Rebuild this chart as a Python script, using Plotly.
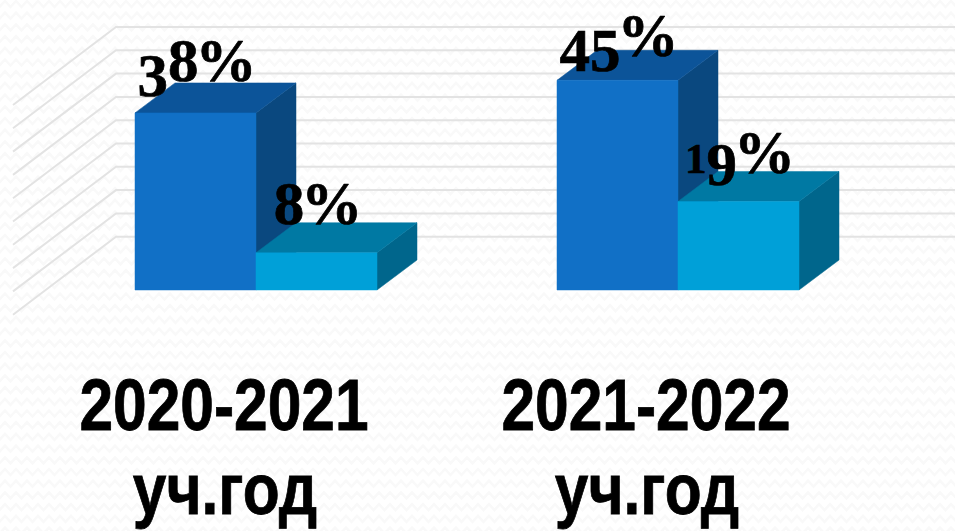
import plotly.graph_objects as go

years_line1 = ["2020-2021", "2021-2022"]
years_line2 = ["уч.год", "уч.год"]
series_a = [38, 45]
series_b = [8, 19]
gridline_values = [5, 10, 15, 20, 25, 30, 35, 40, 45, 50]

W, H = 955, 531
PX_X = 422.0   # pixels per category
PX_Y = 4.66    # pixels per percent
X0 = 256.0     # pixel of first category
Y0 = 290.0     # pixel of zero
BAR_W = 121 / PX_X
DX = 40 / PX_X
DY = 30 / PX_Y

fig = go.Figure()


def poly(xs, ys, color):
    fig.add_trace(go.Scatter(x=xs + xs[:1], y=ys + ys[:1], mode="lines", fill="toself",
                             fillcolor=color, line=dict(color=color, width=0.5),
                             hoverinfo="skip", showlegend=False))


# back wall grid
left = (116 - X0) / PX_X
right = (W - X0) / PX_X
wall_dx = (116 - 13) / PX_X
wall_dy = 78 / PX_Y
for v in gridline_values:
    fig.add_trace(go.Scatter(
        x=[left - wall_dx, left, right],
        y=[v + DY - wall_dy, v + DY, v + DY],
        mode="lines", line=dict(color="#e3e3e3", width=2),
        hoverinfo="skip", showlegend=False))


def bar3d(x0, v, front, top, side):
    x1 = x0 + BAR_W
    poly([x1, x1 + DX, x1 + DX, x1], [0, DY, v + DY, v], side)
    poly([x0, x0 + DX, x1 + DX, x1], [v, v + DY, v + DY, v], top)
    poly([x0, x1, x1, x0], [0, 0, v, v], front)


for i in range(len(series_a)):
    bar3d(i - BAR_W, series_a[i], "#1170c6", "#0c5499", "#0a487f")
    bar3d(float(i), series_b[i], "#00a0d8", "#0079a3", "#00668c")

# value labels (gap above each bar top, in axis units)
gap_a = [3.5, 2.0]
gap_b = [2.85, 2.85]
lx, ly, lt = [], [], []
for i in range(len(series_a)):
    lx += [i - BAR_W / 2 + 1.5 / PX_X, i + BAR_W / 2 + 1.5 / PX_X]
    ly += [series_a[i] + gap_a[i], series_b[i] + gap_b[i]]
    lt += [f"{series_a[i]}%", f"{series_b[i]}%"]
fig.add_trace(go.Scatter(x=lx, y=ly, text=lt, mode="text",
                         textposition="top center",
                         textfont=dict(family="Liberation Serif", size=61, color="black", weight="bold"),
                         hoverinfo="skip", showlegend=False))

# category labels
cats = list(range(len(years_line1)))
label_font = dict(family="Liberation Sans", size=72, color="black", weight="bold")
fig.add_trace(go.Scatter(x=[c - 32 / PX_X for c in cats], y=[-26.1] * len(cats), text=years_line1,
                         mode="text", textposition="middle center", textfont=label_font,
                         hoverinfo="skip", showlegend=False))
fig.add_trace(go.Scatter(x=[c - 31 / PX_X for c in cats], y=[-44.3] * len(cats), text=years_line2,
                         mode="text", textposition="middle center", textfont=label_font,
                         hoverinfo="skip", showlegend=False))

# faint zigzag paper texture, written in axis units
tex_paths = []
row = 4.0
while row < H:
    pts = []
    px = -6.0
    up = True
    while px < W + 6:
        py = row + (-3 if up else 3)
        pts.append(f"{(px - X0) / PX_X:.4f},{(Y0 - py) / PX_Y:.3f}")
        px += 5.5
        up = not up
    tex_paths.append("M" + " L".join(pts))
    row += 11.7

fig.update_layout(
    width=W, height=H, margin=dict(l=0, r=0, t=0, b=0),
    paper_bgcolor="white", plot_bgcolor="rgba(0,0,0,0)", showlegend=False,
    xaxis=dict(visible=False, range=[-X0 / PX_X, (W - X0) / PX_X]),
    yaxis=dict(visible=False, range=[-(H - Y0) / PX_Y, Y0 / PX_Y]),
    shapes=[dict(type="path", xref="x", yref="y", layer="below",
                 path=" ".join(tex_paths),
                 line=dict(color="#f9f9f9", width=2.5))],
)

post = r"""
document.body.style.margin = '0';
document.documentElement.style.overflow = 'hidden';
var NARROW = 0.84;
var DROP = {'3': 15, '4': 15, '5': 15, '9': 12};
document.querySelectorAll('.textpoint text').forEach(function (t) {
  var s = t.textContent;
  t.style.stroke = 'black';
  if (s.indexOf('%') < 0) {
    t.style.strokeWidth = '0.8px';
    t.setAttribute('textLength', t.getComputedTextLength() * NARROW);
    t.setAttribute('lengthAdjust', 'spacingAndGlyphs');
    return;
  }
  t.style.strokeWidth = '0.7px';
  var NS = 'http://www.w3.org/2000/svg', cur = 0;
  while (t.firstChild) t.removeChild(t.firstChild);
  s.split('').forEach(function (ch) {
    var sp = document.createElementNS(NS, 'tspan');
    var off = DROP[ch] || 0;
    sp.setAttribute('dy', off - cur);
    cur = off;
    if (ch === '1') sp.setAttribute('font-size', '43');
    if (ch === '%') sp.setAttribute('dx', '-3');
    sp.textContent = ch;
    t.appendChild(sp);
  });
});
"""
fig.write_html("out.html", post_script=post, config={"displayModeBar": False})
